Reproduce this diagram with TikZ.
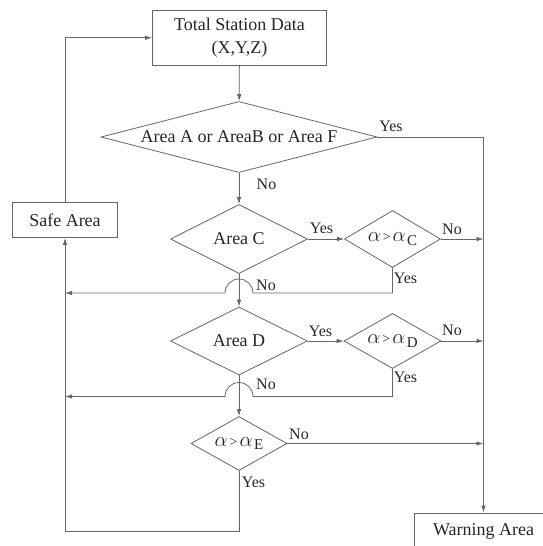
\documentclass[tikz,border=0pt]{standalone}
\usepackage{fontspec}
\setmainfont{Liberation Serif}
\usetikzlibrary{shapes.geometric,arrows.meta,calc}
\newcommand\alphagt[1]{{\fontsize{21}{21}\selectfont$\alpha$}\kern2pt{\fontsize{14}{14}\selectfont>}\kern2pt{\fontsize{21}{21}\selectfont$\alpha$}\kern1.5pt\raisebox{-3.5pt}{\fontsize{15}{15}\selectfont #1}}
\begin{document}
\begin{tikzpicture}[x=1pt,y=-1pt,
  line/.style={draw=black!60, line width=0.8pt},
  arr/.style={line, -{Latex[length=7pt,width=4.5pt]}},
  box/.style={draw=black!60, line width=0.8pt, rectangle, inner sep=0pt, font=\fontsize{18}{23}\selectfont, text=black!85},
  dia/.style={draw=black!60, line width=0.8pt, diamond, inner sep=0pt, font=\fontsize{18}{22}\selectfont, text=black!85},
  lab/.style={font=\fontsize{16}{18}\selectfont, text=black!85, inner sep=0pt}]
\useasboundingbox (0,0) rectangle (543,546);
\clip (0,0) rectangle (543,546);
\fill[white] (0,0) rectangle (543,546);

\node[box, minimum width=174pt, minimum height=55pt, align=center] (tsd) at (239.5,37.8) {Total Station Data\\(X,Y,Z)};
\node[dia, minimum width=276pt, minimum height=71pt, aspect=3.89] (d1) at (239,137) {Area A or AreaB or Area F};
\node[dia, minimum width=137pt, minimum height=69pt, aspect=1.99] (dc) at (239,239) {Area C};
\node[dia, minimum width=96pt, minimum height=57pt, aspect=1.68] (ac) at (392.5,239) {\alphagt{C}};
\node[dia, minimum width=137pt, minimum height=68pt, aspect=2.01] (dd) at (239,341) {Area D};
\node[dia, minimum width=97pt, minimum height=55pt, aspect=1.76] (ad) at (392.5,341) {\alphagt{D}};
\node[dia, minimum width=96pt, minimum height=54pt, aspect=1.78] (ae) at (239,443.5) {\alphagt{E}};
\node[box, minimum width=105pt, minimum height=35pt] (safe) at (65,220) {Safe Area};
\node[box, minimum width=139pt, minimum height=36pt] (warn) at (483.5,531) {Warning Area};

\coordinate (rt) at (483.5,137);
\coordinate (lt) at (safe.north |- tsd.west);
\coordinate (cl) at (392.5,293);
\coordinate (dl) at (392.5,396.5);
\coordinate (bl) at (239,531);
\coordinate (lb) at (safe.south |- bl);

\draw[arr] (tsd) -- (d1);
\draw[arr] (d1.east) -- (rt) -- (warn.north);
\draw[arr] (d1) -- (dc);
\draw[arr] (dc) -- (ac);
\draw[arr] (ac.east) -- (ac.east -| rt);
\draw[arr] (ac.south) -- (cl) -- ($(cl -| dc)+(14,0)$) arc[start angle=0,end angle=180,radius=14pt] -- (cl -| safe);
\draw[arr] (dc) -- (dd);
\draw[arr] (dd) -- (ad);
\draw[arr] (ad.east) -- (ad.east -| rt);
\draw[arr] (ad.south) -- (dl) -- ($(dl -| dd)+(14,0)$) arc[start angle=0,end angle=180,radius=14pt] -- (dl -| safe);
\draw[arr] (dd) -- (ae);
\draw[arr] (ae.east) -- (ae.east -| rt);
\draw[arr] (ae.south) -- (bl) -- (lb) -- (safe.south);
\draw[arr] (safe.north) -- (lt) -- (tsd.west);

\node[lab] (y1) at (391,126) {Yes};
\node[lab] (n1) at (266.5,184) {No};
\node[lab] (yc) at (321.5,228) {Yes};
\node[lab] (nac) at (452,229.5) {No};
\node[lab] (yac) at (405.5,278) {Yes};
\node[lab] (nc) at (266,285) {No};
\node[lab] (yd) at (320.5,331) {Yes};
\node[lab] (nad) at (452,330.5) {No};
\node[lab] (yad) at (405.5,377.5) {Yes};
\node[lab] (nd) at (266,384.5) {No};
\node[lab] (nae) at (299,434) {No};
\node[lab] (yae) at (253.5,482) {Yes};
\end{tikzpicture}
\end{document}
